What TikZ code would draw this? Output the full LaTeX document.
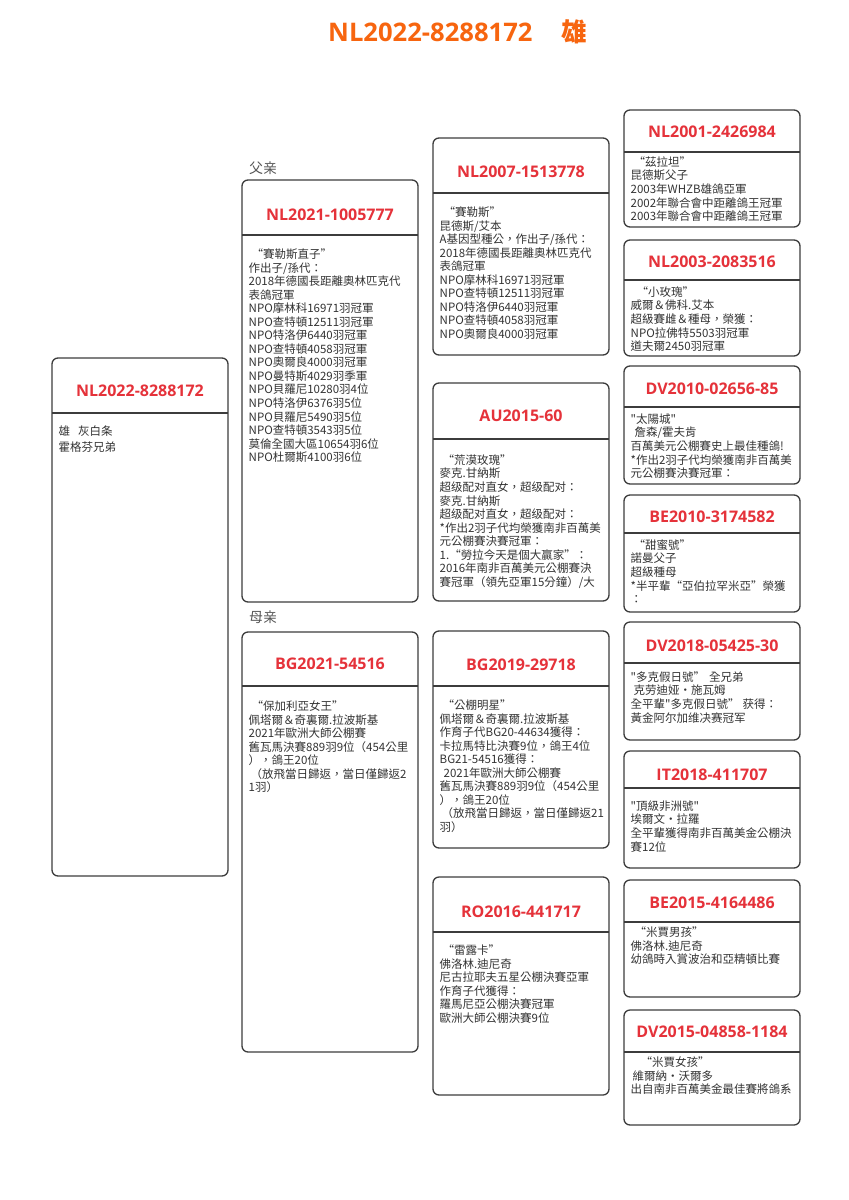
\documentclass[tikz,border=0pt]{standalone}
\usepackage{fontspec}
\setmainfont{Noto Sans CJK TC}[Ligatures=TeXOff]
\newfontfamily\latb{Open Sans}
\definecolor{bordercol}{HTML}{3C3C3C}
\definecolor{titlered}{HTML}{E5323A}
\definecolor{orangec}{HTML}{F7650F}
\definecolor{bodycol}{HTML}{333333}
\definecolor{labelcol}{HTML}{555555}
\tikzset{
  boxline/.style={draw=bordercol, line width=1.3pt, rounded corners=6pt},
  divline/.style={draw=bordercol, line width=1.1pt},
  ttl/.style={text=titlered, font=\latb\bfseries\fontsize{16}{19}\selectfont, inner sep=0pt},
  bodytxt/.style={text=bodycol, font=\fontsize{11.5}{13.55}\selectfont, align=left, anchor=north west, inner sep=0pt},
  lbl/.style={text=labelcol, font=\fontsize{14}{16}\selectfont, inner sep=0pt}
}
% #1 name, #2 x-left, #3 y-top, #4 y-bottom, #5 y-divider, #6 y-title, #7 y-first line, #8 title, #9 body
\newcommand\pedbox[9]{%
  \draw[boxline] (#2,#3) rectangle (#2+176,#4);
  \draw[divline] (#2,#5) -- (#2+176,#5);
  \node[ttl] (#1t) at (#2+88,#6) {#8};
  \node[bodytxt] (#1b) at (#2+6.5,#7-5.5) {#9};
}
\begin{document}
\begin{tikzpicture}[x=1pt,y=-1pt]
\useasboundingbox[fill=white] (0,0) rectangle (849,1200);
\node[anchor=base west, text=orangec, font=\fontsize{25.6}{29}\selectfont\bfseries, inner sep=0pt] (title) at (328,41) {{\latb NL2022-8288172}\hspace{29pt}雄};

\node[lbl] (flbl) at (263,168) {父亲};
\node[lbl] (mlbl) at (263,617) {母亲};

\pedbox{me}{52}{358}{876}{413}{391}{431}{NL2022-8288172}{雄\hspace{8pt}灰白条\\[2.5pt]霍格芬兄弟}

\pedbox{f}{242}{180}{602}{235}{215}{254}{NL2021-1005777}{\hspace*{3pt}“賽勒斯直子”\\作出子/孫代：\\2018年德國長距離奧林匹克代\\表鴿冠軍\\NPO摩林科16971羽冠軍\\NPO查特頓12511羽冠軍\\NPO特洛伊6440羽冠軍\\NPO查特頓4058羽冠軍\\NPO奧爾良4000羽冠軍\\NPO曼特斯4029羽季軍\\NPO貝羅尼10280羽4位\\NPO特洛伊6376羽5位\\NPO貝羅尼5490羽5位\\NPO查特頓3543羽5位\\莫倫全國大區10654羽6位\\NPO杜爾斯4100羽6位}

\pedbox{m}{242}{632}{1052}{686}{664}{706}{BG2021-54516}{\hspace*{3pt}“保加利亞女王”\\佩塔爾＆奇裏爾.拉波斯基\\2021年歐洲大師公棚賽\\舊瓦馬決賽889羽9位（454公里\\），鴿王20位\\\hspace*{2pt}（放飛當日歸返，當日僅歸返2\\1羽）}

\pedbox{ff}{433}{138}{355}{193}{172}{212}{NL2007-1513778}{\hspace*{4pt}“賽勒斯”\\昆德斯/艾本\\A基因型種公，作出子/孫代：\\2018年德國長距離奧林匹克代\\表鴿冠軍\\NPO摩林科16971羽冠軍\\NPO查特頓12511羽冠軍\\NPO特洛伊6440羽冠軍\\NPO查特頓4058羽冠軍\\NPO奧爾良4000羽冠軍}

\pedbox{fm}{433}{383}{601}{439}{416}{460}{AU2015-60}{\hspace*{3pt}“荒漠玫瑰”\\麥克.甘納斯\\超级配对直女，超级配对：\\麥克.甘納斯\\超级配对直女，超级配对：\\{}*作出2羽子代均榮獲南非百萬美\\元公棚賽決賽冠軍：\\1.“勞拉今天是個大贏家”：\\2016年南非百萬美元公棚賽決\\賽冠軍（領先亞軍15分鐘）/大}

\pedbox{mf}{433}{631}{848}{686}{665}{705}{BG2019-29718}{\hspace*{3pt}“公棚明星”\\佩塔爾＆奇裏爾.拉波斯基\\作育子代BG20-44634獲得：\\卡拉馬特比決賽9位，鴿王4位\\BG21-54516獲得：\\\hspace*{4pt}2021年歐洲大師公棚賽\\舊瓦馬決賽889羽9位（454公里\\），鴿王20位\\\hspace*{2pt}（放飛當日歸返，當日僅歸返21\\羽）}

\pedbox{mm}{433}{877}{1095}{932}{912}{950}{RO2016-441717}{\hspace*{3pt}“雷露卡”\\佛洛林.迪尼奇\\尼古拉耶夫五星公棚決賽亞軍\\作育子代獲得：\\羅馬尼亞公棚決賽冠軍\\歐洲大師公棚決賽9位}

\pedbox{fff}{624}{110}{227}{152}{132}{162}{NL2001-2426984}{\hspace*{3pt}“茲拉坦”\\昆德斯父子\\2003年WHZB雄鴿亞軍\\2002年聯合會中距離鴿王冠軍\\2003年聯合會中距離鴿王冠軍}

\pedbox{ffm}{624}{240}{356}{280}{262}{292}{NL2003-2083516}{\hspace*{6pt}“小玫瑰”\\威爾＆佛科.艾本\\超級賽雌＆種母，榮獲：\\NPO拉佛特5503羽冠軍\\道夫爾2450羽冠軍}

\pedbox{fmf}{624}{366}{484}{407}{389}{419}{DV2010-02656-85}{"太陽城"\\\hspace*{4pt}詹森/霍夫肯\\百萬美元公棚賽史上最佳種鴿!\\{}*作出2羽子代均榮獲南非百萬美\\元公棚賽決賽冠軍：}

\pedbox{fmm}{624}{495}{612}{533}{517}{545}{BE2010-3174582}{\hspace*{3pt}“甜蜜號”\\諾曼父子\\超級種母\\{}*半平輩“亞伯拉罕米亞”榮獲\\：}

\pedbox{mff}{624}{622}{740}{663}{646}{677}{DV2018-05425-30}{"多克假日號”\hspace{4pt}全兄弟\\\hspace*{3pt}克劳迪娅·施瓦姆\\全平輩"多克假日號”\hspace{3pt}获得：\\黃金阿尔加维决赛冠军}

\pedbox{mfm}{624}{751}{868}{788}{775}{806}{IT2018-411707}{"頂級非洲號"\\埃爾文·拉羅\\全平輩獲得南非百萬美金公棚決\\賽12位}

\pedbox{mmf}{624}{880}{997}{922}{903}{932}{BE2015-4164486}{\hspace*{4pt}“米賈男孩”\\佛洛林.迪尼奇\\幼鴿時入賞波治和亞精頓比賽}

\pedbox{mmm}{624}{1010}{1125}{1052}{1032}{1062}{DV2015-04858-1184}{\hspace*{10pt}“米賈女孩”\\\hspace*{2pt}維爾納·沃爾多\\出自南非百萬美金最佳賽將鴿系}
\end{tikzpicture}
\end{document}
